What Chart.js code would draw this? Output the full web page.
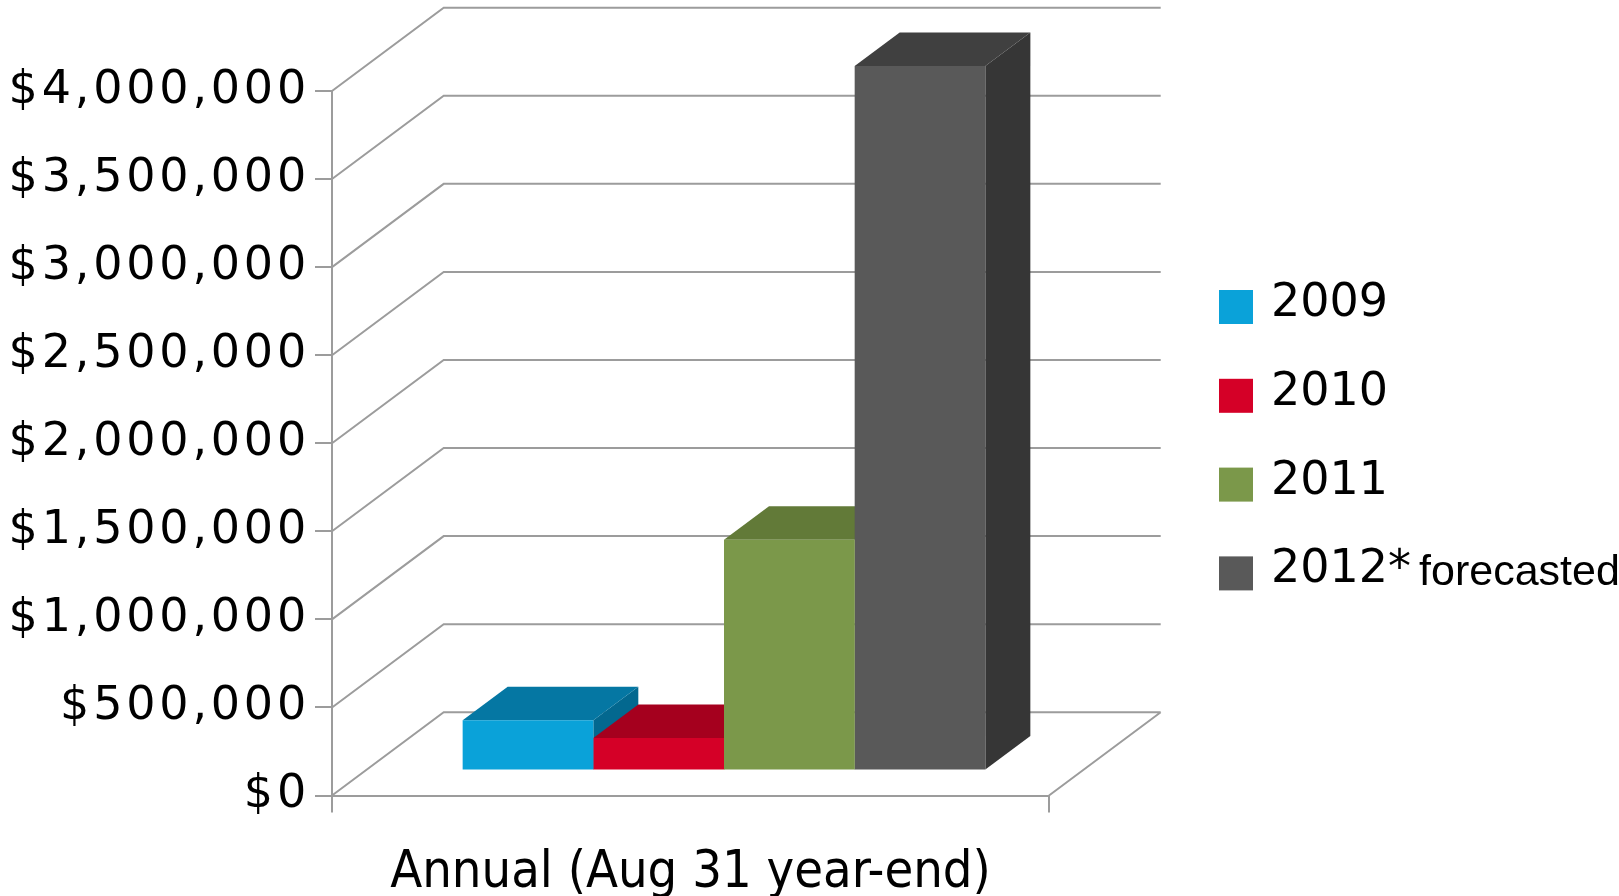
<!DOCTYPE html>
<html lang="en">
<head>
  <meta charset="UTF-8">
  <title>Annual (Aug 31 year-end)</title>
  <script src="https://cdn.jsdelivr.net/npm/chart.js"></script>
  <style>
    body {
      margin: 0;
      background: #ffffff;
    }
    #annualChart {
      display: block;
    }
  </style>
</head>
<body>
  <canvas id="annualChart" width="1619" height="896"></canvas>

  <script>
    // data
    const categories = ['Annual (Aug 31 year-end)'];
    const seriesNames = ['2009', '2010', '2011', '2012*'];
    const values2009 = [285000];
    const values2010 = [185000];
    const values2011 = [1310000];
    const values2012 = [4000000];
    const tickValues = [0, 500000, 1000000, 1500000, 2000000, 2500000, 3000000, 3500000, 4000000];
    const forecastNote = 'forecasted';

    // styles
    const frontColors = ['#0aa2d9', '#d50027', '#7b984a', '#595959'];
    const topColors = ['#0577a3', '#a5001e', '#627a38', '#404040'];
    const sideColors = ['#03688f', '#880018', '#52662f', '#363636'];
    const gridColor = '#9c9c9c';
    const wideFont = "'DejaVu Sans', sans-serif";
    const narrowFont = "'DejaVu Sans Condensed', 'DejaVu Sans', sans-serif";
    const yLabelSpacing = '3.8px';

    // 3d geometry (pixels)
    const boxDepth = { dx: 111.7, dy: 83.3 };
    const barOffset = { dx: 33.5, dy: 25 };
    const barDepth = { dx: 45, dy: 33.5 };

    function formatMoney(v) {
      return '$' + v.toLocaleString('en-US');
    }

    const box3d = {
      id: 'box3d',
      beforeDatasetsDraw(chart) {
        const { ctx, chartArea: a, scales: { y } } = chart;

        // side wall diagonals + back wall gridlines + floor edge
        ctx.save();
        ctx.strokeStyle = gridColor;
        ctx.lineWidth = 2;
        ctx.beginPath();
        y.ticks.forEach(t => {
          const py = y.getPixelForValue(t.value);
          ctx.moveTo(a.left, py);
          ctx.lineTo(a.left + boxDepth.dx, py - boxDepth.dy);
          ctx.lineTo(a.right + boxDepth.dx, py - boxDepth.dy);
        });
        ctx.moveTo(a.right, a.bottom);
        ctx.lineTo(a.right + boxDepth.dx, a.bottom - boxDepth.dy);
        ctx.stroke();
        ctx.restore();

        // push bars back into the box, draw their side and top faces
        ctx.save();
        ctx.translate(barOffset.dx, -barOffset.dy);
        chart.data.datasets.forEach((ds, i) => {
          chart.getDatasetMeta(i).data.forEach(bar => {
            const x1 = bar.x - bar.width / 2;
            const x2 = bar.x + bar.width / 2;
            const top = bar.y, base = bar.base;

            ctx.fillStyle = sideColors[i];
            ctx.beginPath();
            ctx.moveTo(x2, top);
            ctx.lineTo(x2 + barDepth.dx, top - barDepth.dy);
            ctx.lineTo(x2 + barDepth.dx, base - barDepth.dy);
            ctx.lineTo(x2, base);
            ctx.closePath();
            ctx.fill();

            ctx.fillStyle = topColors[i];
            ctx.beginPath();
            ctx.moveTo(x1, top);
            ctx.lineTo(x2, top);
            ctx.lineTo(x2 + barDepth.dx, top - barDepth.dy);
            ctx.lineTo(x1 + barDepth.dx, top - barDepth.dy);
            ctx.closePath();
            ctx.fill();
          });
        });
      },
      afterDatasetsDraw(chart) {
        chart.ctx.restore();
        // y tick labels are on a later layer (ticks.z = 1): spread them out like the original
        chart.ctx.letterSpacing = yLabelSpacing;
      }
    };

    const sideLegend = {
      id: 'sideLegend',
      afterDraw(chart) {
        const ctx = chart.ctx;
        ctx.letterSpacing = '0px';
        ctx.save();
        ctx.textBaseline = 'alphabetic';
        ctx.textAlign = 'left';
        chart.data.datasets.forEach((ds, i) => {
          const top = 290 + i * 88.8;
          ctx.fillStyle = ds.backgroundColor;
          ctx.fillRect(1219, top, 34, 34);
          ctx.fillStyle = '#000000';
          ctx.font = '46px ' + wideFont;
          ctx.fillText(ds.label, 1271, top + 26);
          if (i === chart.data.datasets.length - 1) {
            const w = ctx.measureText(ds.label).width;
            ctx.font = "43px 'Liberation Sans', Arial, sans-serif";
            ctx.fillText(forecastNote, 1271 + w + 8, top + 29);
          }
        });
        ctx.restore();
      }
    };

    Chart.defaults.font.family = narrowFont;
    Chart.defaults.color = '#000000';

    const allValues = [values2009, values2010, values2011, values2012];

    new Chart(document.getElementById('annualChart'), {
      type: 'bar',
      data: {
        labels: categories,
        datasets: seriesNames.map((name, i) => ({
          label: name,
          data: allValues[i],
          backgroundColor: frontColors[i],
          borderWidth: 0,
          barPercentage: 1,
          categoryPercentage: 0.729
        }))
      },
      options: {
        responsive: false,
        devicePixelRatio: 1,
        animation: false,
        layout: {
          padding: { top: 91, right: 570, bottom: 0, left: 0 }
        },
        plugins: {
          legend: { display: false },
          tooltip: { enabled: false }
        },
        scales: {
          x: {
            grid: { drawOnChartArea: false, color: gridColor, lineWidth: 2, tickLength: 17 },
            border: { color: gridColor, width: 2 },
            ticks: { color: '#000000', font: { size: 52 }, padding: 30, maxRotation: 0 },
            afterFit: s => { s.height = 100.5; }
          },
          y: {
            min: 0,
            max: 4000000,
            afterBuildTicks: s => { s.ticks = tickValues.map(v => ({ value: v })); },
            grid: { drawOnChartArea: false, color: gridColor, lineWidth: 2, tickLength: 17 },
            border: { color: gridColor, width: 2 },
            ticks: {
              z: 1,
              color: '#000000',
              font: { family: wideFont, size: 46 },
              padding: 5,
              callback: v => formatMoney(v)
            },
            afterFit: s => { s.width = 332; }
          }
        }
      },
      plugins: [box3d, sideLegend]
    });
  </script>
</body>
</html>
